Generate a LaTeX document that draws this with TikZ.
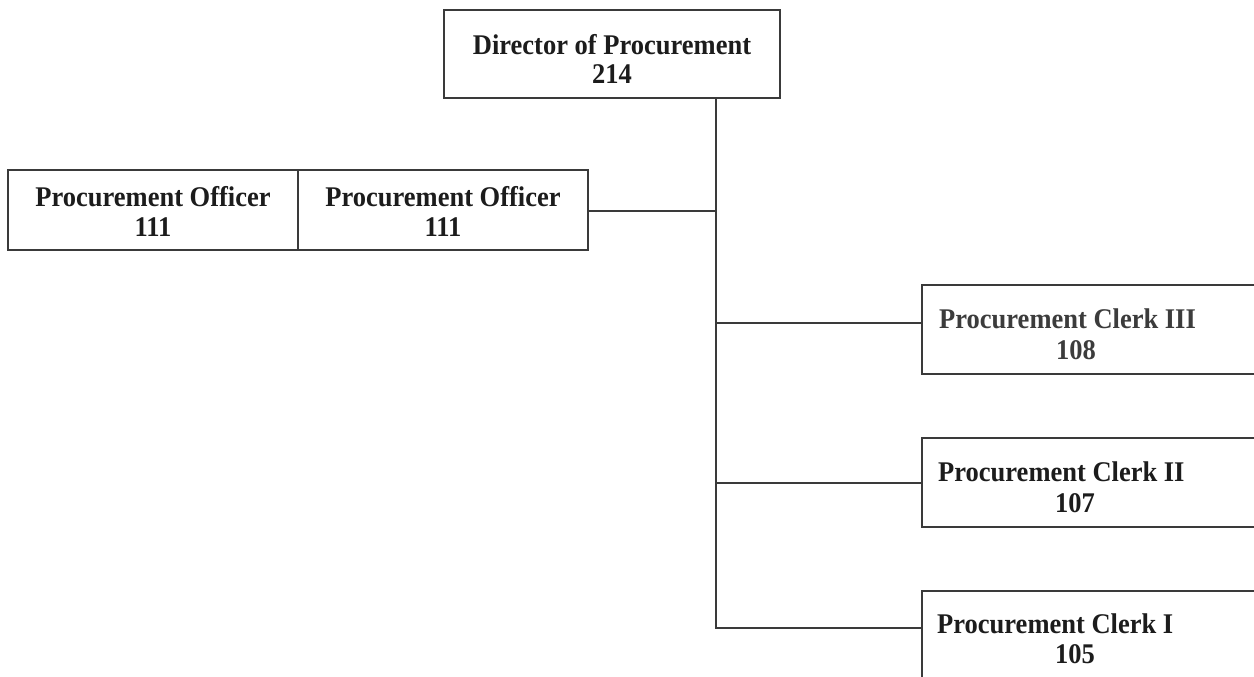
\documentclass[tikz,border=0pt]{standalone}
\usepackage{fontspec}
\setmainfont{Liberation Serif}
\newfontfamily\boxfont{Liberation Serif}[FakeStretch=0.93]
\definecolor{linecol}{HTML}{3A3A3A}
\definecolor{textcol}{HTML}{1C1C1C}
\definecolor{softtext}{HTML}{3C3C3C}
\tikzset{
  box/.style={draw=linecol, line width=1.6pt, rectangle, inner sep=0pt, outer sep=0pt, anchor=north west},
  title/.style={font=\boxfont\fontsize{28.5}{30}\selectfont\bfseries, text=textcol, inner sep=0pt, anchor=base},
  link/.style={draw=linecol, line width=1.6pt},
}
\begin{document}
\begin{tikzpicture}[x=1pt,y=-1pt]
\useasboundingbox (0,0) rectangle (1254,677);
\fill[white] (0,0) rectangle (1254,677);
\clip (0,0) rectangle (1254,677);

% boxes
\node[box, minimum width=336pt, minimum height=88pt] (dir) at (444,10) {};
\node[box, minimum width=290pt, minimum height=80pt] (off1) at (8,170) {};
\node[box, minimum width=290pt, minimum height=80pt] (off2) at (298,170) {};
\node[box, minimum width=345pt, minimum height=89pt] (cl3) at (922,285) {};
\node[box, minimum width=345pt, minimum height=89pt] (cl2) at (922,438) {};
\node[box, minimum width=345pt, minimum height=110pt] (cl1) at (922,591) {};

% labels
\node[title] (dirA) at (612,55) {Director of Procurement};
\node[title] (dirB) at (612,84) {214};
\node[title] (off1A) at (153,206) {Procurement Officer};
\node[title] (off1B) at (153,236) {111};
\node[title] (off2A) at (443,206) {Procurement Officer};
\node[title] (off2B) at (443,236) {111};
\node[title, text=softtext, anchor=base west] (cl3A) at (939,328) {Procurement Clerk III};
\node[title, text=softtext] (cl3B) at (1076,359) {108};
\node[title, anchor=base west] (cl2A) at (938,481) {Procurement Clerk II};
\node[title] (cl2B) at (1075,512) {107};
\node[title, anchor=base west] (cl1A) at (937,633) {Procurement Clerk I};
\node[title] (cl1B) at (1075,663) {105};

% connectors
\coordinate (spine) at (716,628);
\coordinate (jo) at (716,211);
\coordinate (j3) at (716,323);
\coordinate (j2) at (716,483);
\draw[link] (dir.south -| spine) -- (spine) -- (spine -| cl1.west);
\draw[link] (off2.east |- jo) -- (jo);
\draw[link] (j3) -- (j3 -| cl3.west);
\draw[link] (j2) -- (j2 -| cl2.west);
\end{tikzpicture}
\end{document}
